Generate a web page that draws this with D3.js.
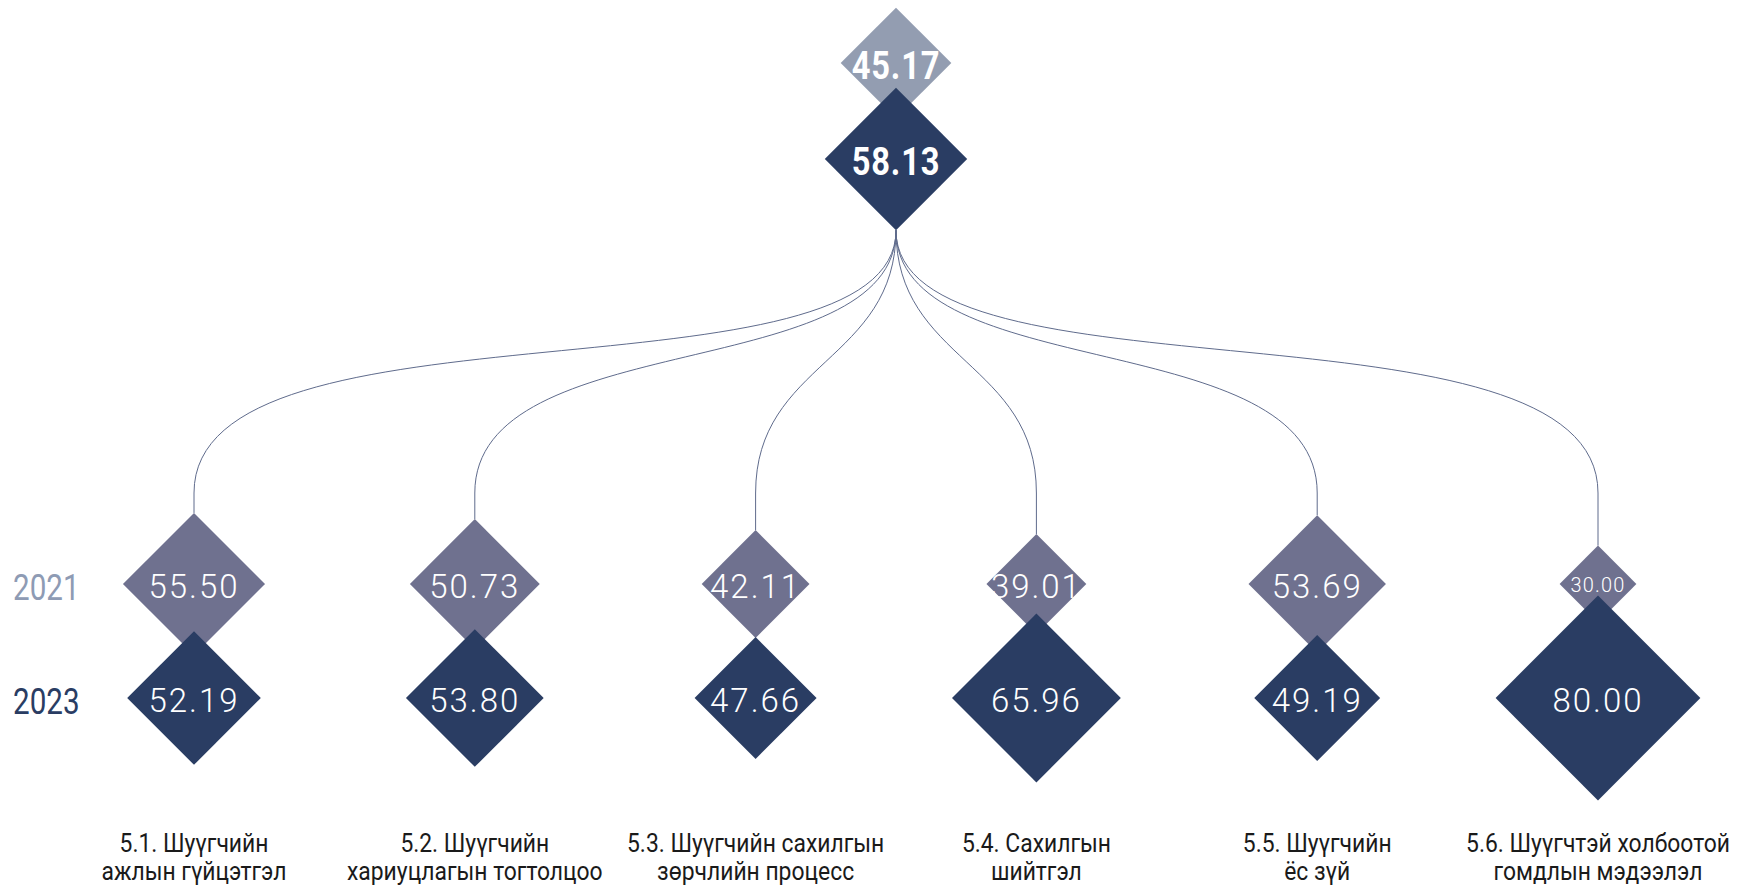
<!DOCTYPE html>
<html>
<head>
<meta charset="utf-8">
<script src="https://cdn.jsdelivr.net/npm/d3@7"></script>
<style>
  body { margin: 0; background: #fff; }
  svg { display: block; font-family: Roboto, "Noto Sans", sans-serif; }
</style>
</head>
<body>
<script>
// Chart data
var categories = [
  ["5.1. Шуүгчийн", "ажлын гүйцэтгэл"],
  ["5.2. Шуүгчийн", "хариуцлагын тогтолцоо"],
  ["5.3. Шуүгчийн сахилгын", "зөрчлийн процесс"],
  ["5.4. Сахилгын", "шийтгэл"],
  ["5.5. Шуүгчийн", "ёс зүй"],
  ["5.6. Шуүгчтэй холбоотой", "гомдлын мэдээлэл"]
];
var years = ["2021", "2023"];
var values2021 = [55.50, 50.73, 42.11, 39.01, 53.69, 30.00];
var values2023 = [52.19, 53.80, 47.66, 65.96, 49.19, 80.00];
var total2021 = 45.17;
var total2023 = 58.13;

var svgWidth = 1739;
var svgHeight = 887;

var colors = { top2021: "#939db1", row2021: "#6f718f", dark: "#2a3d63", year2021: "#8e9bb4", link: "#5f6b8c" };

var svg = d3.select("body")
  .append("svg")
  .attr("width", svgWidth)
  .attr("height", svgHeight);

// Scales
var xScale = d3.scalePoint()
  .domain(d3.range(categories.length))
  .range([194, 1598]);

var yRow = d3.scalePoint()
  .domain(years)
  .range([584, 698]);

var centerX = (xScale.range()[0] + xScale.range()[1]) / 2;
var yTop = d3.scalePoint().domain(years).range([63, 159]);

// half-diagonal of diamond from value
var sizeScale = d3.scaleLinear().domain([0, 100]).range([0, 128]);
var topSizeScale = d3.scaleLinear().domain([0, 100]).range([0, 122.5]);

function diamond(cx, cy, h) {
  return "M" + cx + "," + (cy - h) + "L" + (cx + h) + "," + cy +
    "L" + cx + "," + (cy + h) + "L" + (cx - h) + "," + cy + "Z";
}

var fmt = d3.format(".2f");

// wider links flatten out earlier than the near ones
var maxDx = centerX - xScale.range()[0];
function linkPath(x0, y0, x1, y1, yEnd) {
  var span = y1 - y0;
  var f = Math.max(0, Math.min(1, (Math.abs(x1 - x0) / maxDx - 0.2) / 0.8));
  var h1 = span * (0.5 + 0.187 * f);
  var h2 = span * (0.5 - 0.282 * f);
  var p = d3.path();
  p.moveTo(x0, y0);
  p.bezierCurveTo(x0, y0 + h1, x1, y0 + h2, x1, y1);
  p.lineTo(x1, yEnd);
  return p.toString();
}

// Links from the total to each 2021 diamond
var linkTargetY = 493;
var sourceY = yTop("2023") + topSizeScale(total2023);

svg.append("g")
  .selectAll("path")
  .data(values2021)
  .join("path")
  .attr("fill", "none")
  .attr("stroke", colors.link)
  .attr("stroke-width", 1)
  .attr("d", (d, i) => linkPath(centerX, sourceY, xScale(i), linkTargetY, yRow("2021") - sizeScale(d)));

// Top diamonds
var topGroup = svg.append("g");
[[total2021, "2021", colors.top2021], [total2023, "2023", colors.dark]].forEach(function (t) {
  var h = topSizeScale(t[0]);
  topGroup.append("path")
    .attr("d", diamond(centerX, yTop(t[1]), h))
    .attr("fill", t[2]);
  topGroup.append("text")
    .attr("transform", `translate(${centerX}, ${yTop(t[1])}) scale(0.86, 1)`)
    .attr("dy", "0.42em")
    .attr("text-anchor", "middle")
    .attr("fill", "#fff")
    .attr("font-size", 38)
    .attr("font-weight", 700)
    .attr("letter-spacing", 1)
    .text(fmt(t[0]));
});

// Row diamonds
function drawRow(values, year, fill) {
  var g = svg.append("g");
  values.forEach(function (v, i) {
    var h = sizeScale(v);
    var fs = h < 45 ? h * 0.52 : 33;
    g.append("path")
      .attr("d", diamond(xScale(i), yRow(year), h))
      .attr("fill", fill);
    g.append("text")
      .attr("x", xScale(i))
      .attr("y", yRow(year))
      .attr("dy", "0.42em")
      .attr("text-anchor", "middle")
      .attr("fill", "#fff")
      .attr("font-size", fs)
      .attr("font-weight", 300)
      .attr("letter-spacing", fs * 0.06)
      .text(fmt(v));
  });
}
drawRow(values2021, "2021", colors.row2021);
drawRow(values2023, "2023", colors.dark);

// Year labels
svg.append("g")
  .selectAll("text")
  .data(years)
  .join("text")
  .attr("transform", d => `translate(13, ${yRow(d) + 16}) scale(0.8, 1)`)
  .attr("font-size", 37)
  .attr("font-weight", 400)
  .attr("fill", d => d === "2021" ? colors.year2021 : colors.dark)
  .text(d => d);

// Category labels
var labels = svg.append("g")
  .selectAll("text")
  .data(categories)
  .join("text")
  .attr("text-anchor", "middle")
  .attr("font-size", 26)
  .attr("fill", "#1a1a1a")
  .attr("transform", (d, i) => `translate(${xScale(i)}, 0) scale(0.88, 1)`);

labels.selectAll("tspan")
  .data(d => d)
  .join("tspan")
  .attr("x", 0)
  .attr("y", (d, j) => 852 + j * 28)
  .text(d => d);
</script>
</body>
</html>
